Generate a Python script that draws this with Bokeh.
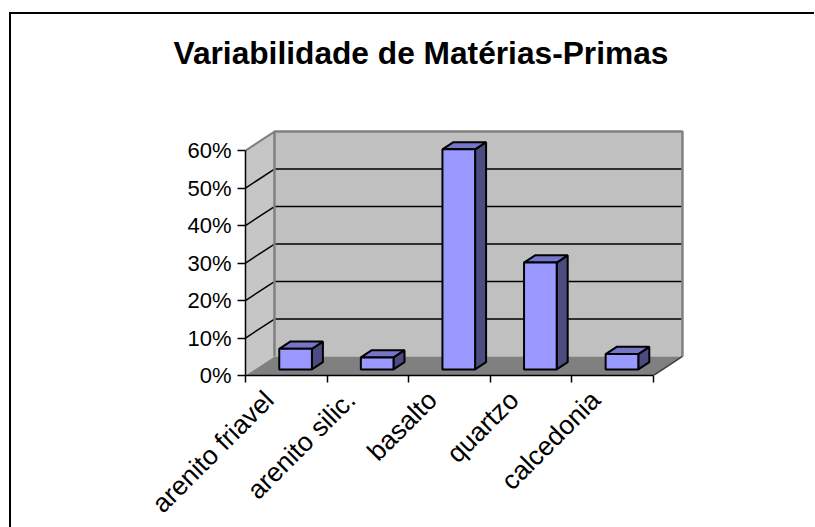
import math
from bokeh.plotting import figure
from bokeh.models import Range1d, FixedTicker, LinearAxis, Title
from bokeh.embed import file_html
from bokeh.resources import INLINE

# ---- data ----
chart_title = "Variabilidade de Matérias-Primas"
categories = ["arenito friavel", "arenito silic.", "basalto", "quartzo", "calcedonia"]
values = [5.5, 3.2, 58.7, 28.5, 4.1]          # percent
y_ticks = [0, 10, 20, 30, 40, 50, 60]
y_tick_labels = ["0%", "10%", "20%", "30%", "40%", "50%", "60%"]

# ---- 3D styling constants ----
N = len(categories)
YMAX = y_ticks[-1]
DX, DY = 0.355, 5.07          # depth vector (category units, percent units)
F0, F1 = 0.32, 0.70           # bar depth position (fraction of total depth)
BW = 0.40                     # bar width (category units)
PADX, PADY = 0.025, 0.55
LABEL_SHIFT = 0.21            # label anchor shift left of category centre

FRONT, TOP, SIDE = "#9999FF", "#7676C8", "#4C4C80"
WALL, LWALL, FLOOR, EDGE = "#C0C0C0", "#C6C6C6", "#808080", "#808080"
FONT = "Liberation Sans"

p = figure(frame_width=439, frame_height=246,
           x_range=Range1d(0, N + DX + PADX), y_range=Range1d(0, YMAX + DY + PADY),
           output_backend="svg", toolbar_location=None,
           x_axis_location=None, y_axis_location=None,
           min_border_left=234, min_border_right=130, min_border_top=115, min_border_bottom=0,
           background_fill_color="white", border_fill_color="white", outline_line_color=None,
           margin=(12, 0, 0, 9),
           styles={"border-left": "2px solid black", "border-top": "2px solid black"})
p.grid.visible = False

# spacer between plot area and title
p.add_layout(Title(text=" ", text_font_size="1px", standoff=51), "above")

p.title.text = chart_title
p.title.align = "left"
p.title.offset = -72
p.title.standoff = 10
p.title.text_font = FONT
p.title.text_font_size = "31.7px"
p.title.text_font_style = "bold"
p.title.text_color = "black"

# walls and floor
p.quad(left=[DX], right=[N + DX], bottom=[DY], top=[YMAX + DY], fill_color=WALL, line_color=None)
p.patch([0, DX, DX, 0], [0, DY, YMAX + DY, YMAX], fill_color=LWALL, line_color=None)
p.patch([0, N, N + DX, DX], [0, 0, DY, DY], fill_color=FLOOR, line_color=None)

# gridlines on back wall and left wall
grid_t = y_ticks[1:-1]
p.segment(x0=[DX] * len(grid_t), y0=[t + DY for t in grid_t],
          x1=[N + DX] * len(grid_t), y1=[t + DY for t in grid_t], line_color="black", line_width=1.5)
p.segment(x0=[0] * len(grid_t), y0=grid_t,
          x1=[DX] * len(grid_t), y1=[t + DY for t in grid_t], line_color="black", line_width=1.5)

# wall edges
p.line([DX, DX, N + DX, N + DX], [DY, YMAX + DY, YMAX + DY, DY], line_color=EDGE, line_width=2.5)
p.line([0, DX], [YMAX, YMAX + DY], line_color=EDGE, line_width=2)
p.line([N, N + DX], [0, DY], line_color="#404040", line_width=1.5)

# bars
d = F1 - F0
fl, fr, fb, ft, sx, sy, tx, ty = [], [], [], [], [], [], [], []
for i, v in enumerate(values):
    c = i + 0.5
    xl = c - BW / 2 + F0 * DX
    xr = xl + BW
    yb = F0 * DY
    yt = v + F0 * DY
    fl.append(xl); fr.append(xr); fb.append(yb); ft.append(yt)
    sx.append([xr, xr + d * DX, xr + d * DX, xr])
    sy.append([yb, yb + d * DY, yt + d * DY, yt])
    tx.append([xl, xr, xr + d * DX, xl + d * DX])
    ty.append([yt, yt, yt + d * DY, yt + d * DY])

p.patches(sx, sy, fill_color=SIDE, line_color="black", line_width=2)
p.patches(tx, ty, fill_color=TOP, line_color="black", line_width=2)
p.quad(left=fl, right=fr, bottom=fb, top=ft, fill_color=FRONT, line_color="black", line_width=2)

# value axis
yax = LinearAxis(ticker=FixedTicker(ticks=y_ticks), bounds=(0, YMAX),
                 major_label_overrides={t: l for t, l in zip(y_ticks, y_tick_labels)},
                 axis_line_color="black", axis_line_width=1.5,
                 major_tick_out=8, major_tick_in=0, minor_tick_out=0, minor_tick_in=0,
                 major_tick_line_color="black", major_tick_line_width=1.5,
                 major_label_standoff=6, major_label_text_font=FONT,
                 major_label_text_font_size="22px", major_label_text_color="black")
p.add_layout(yax, "left")

# category axis: tick marks at category boundaries
xax = LinearAxis(ticker=FixedTicker(ticks=list(range(N + 1))), bounds=(0, N),
                 major_label_overrides={i: "" for i in range(N + 1)},
                 major_label_text_font_size="0px", major_label_standoff=0,
                 axis_line_color="black", axis_line_width=1.5,
                 major_tick_out=7, major_tick_in=0, minor_tick_out=0, minor_tick_in=0,
                 major_tick_line_color="black", major_tick_line_width=1.5)
p.add_layout(xax, "below")

# category axis: rotated names
label_pos = [i + 0.5 - LABEL_SHIFT for i in range(N)]
xlab = LinearAxis(ticker=FixedTicker(ticks=label_pos),
                  major_label_overrides={pos: cat for pos, cat in zip(label_pos, categories)},
                  major_label_orientation=math.pi / 4, major_label_standoff=13,
                  major_label_text_font=FONT, major_label_text_font_size="26.5px",
                  major_label_text_color="black",
                  axis_line_color=None, major_tick_out=0, major_tick_in=0,
                  minor_tick_out=0, minor_tick_in=0, major_tick_line_color=None,
                  minor_tick_line_color=None)
p.add_layout(xlab, "below")

open("out.html", "w").write(file_html(p, INLINE))
